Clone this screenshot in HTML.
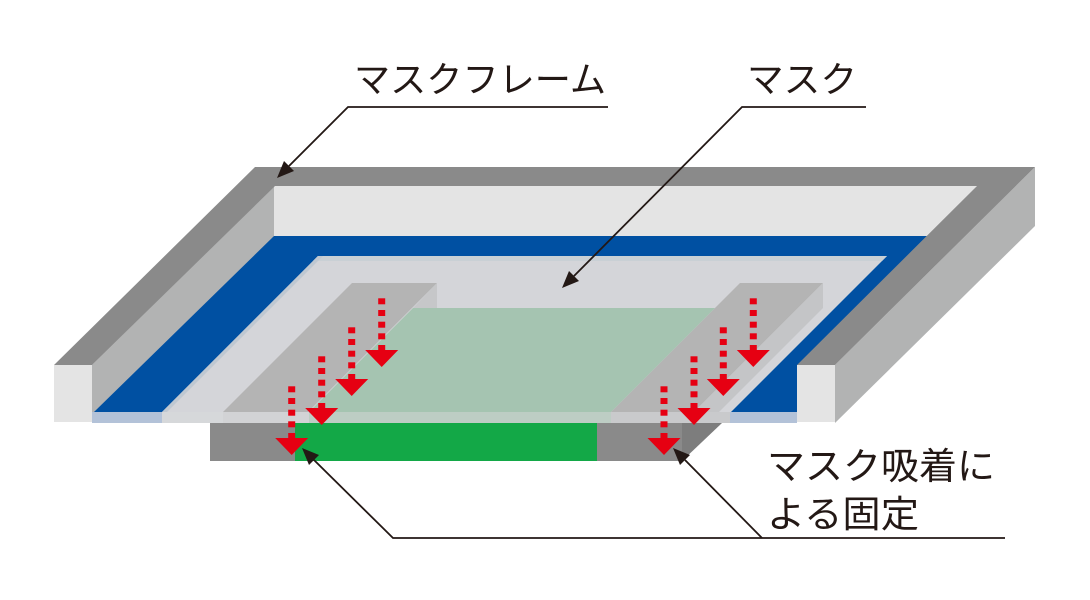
<!DOCTYPE html>
<html>
<head>
<meta charset="utf-8">
<style>
  html,body{margin:0;padding:0;background:#fff;}
  body{width:1090px;height:600px;overflow:hidden;}
  svg{display:block;}
  text{font-family:"Liberation Sans","Noto Sans CJK JP",sans-serif;fill:#231815;}
</style>
</head>
<body>
<svg width="1090" height="600" viewBox="0 0 1090 600" xmlns="http://www.w3.org/2000/svg">
  <rect width="1090" height="600" fill="#fff"/>

  <!-- right wall outer face -->
  <polygon points="1035,167 1035,226 835,423 835,365" fill="#b2b3b3"/>
  <!-- back wall inner face -->
  <polygon points="274,186 977,186 928,236 274,236" fill="#e4e4e4"/>
  <!-- blue floor -->
  <polygon points="271,236 927,236 797,366 797,412 92,412 92,365" fill="#0050a2"/>
  <!-- left wall inner face -->
  <polygon points="274,186 274,236 94,412 92,412 92,365" fill="#b2b3b3"/>
  <!-- top dark band of frame -->
  <polygon points="255,167 1035,167 835,365 797,365 977,186 275,186 92,365 54,365" fill="#8a8a8a"/>
  <!-- front cut faces -->
  <rect x="54" y="365" width="38" height="57" fill="#e4e4e4"/>
  <rect x="797" y="365" width="38" height="57" fill="#e4e4e4"/>

  <!-- front strip (base / mask thickness) -->
  <rect x="92" y="412" width="705" height="11" fill="#b3c2d8"/>
  <rect x="162" y="412" width="568" height="11" fill="#d6d8da"/>
  <rect x="223" y="412" width="86" height="11" fill="#d2d3d5"/>
  <rect x="309" y="412" width="302" height="11" fill="#bdcdc4"/>
  <rect x="611" y="412" width="119" height="11" fill="#c9cacc"/>

  <!-- mask top surface -->
  <polygon points="318,256 887,256 731,412 162,412" fill="#d4d5d9"/>
  <polygon points="318,256 887,256 882,261 313,261" fill="#c9d0d5"/>
  <polygon points="318,256 323,256 167,412 162,412" fill="#bfc8d1"/>

  <!-- left block -->
  <polygon points="352,283 437,283 308,412 223,412" fill="#b4b4b4"/>
  <polygon points="437,283 437,308 413,308" fill="#c6c7c9"/>
  <!-- right block -->
  <polygon points="740,283 823,283 694,412 611,412" fill="#b4b4b4"/>
  <polygon points="823,283 823,308 719,412 694,412" fill="#c4c5c7"/>

  <!-- translucent green area -->
  <polygon points="413,308 715,308 611,412 309,412" fill="#a5c4b1"/>

  <!-- table -->
  <rect x="210" y="423" width="472" height="38" fill="#8a8a8a"/>
  <polygon points="682,423 722,423 682,461" fill="#7d7d7d"/>
  <rect x="295" y="423" width="302" height="38" fill="#13a847"/>

  <!-- red dashed arrows -->
  <g fill="#e60012">
    <!-- left group -->
    <g transform="translate(291.7,438)">
      <rect x="-3.5" y="-51.7" width="7" height="6"/><rect x="-3.5" y="-40" width="7" height="6"/><rect x="-3.5" y="-28.3" width="7" height="6"/><rect x="-3.5" y="-16.7" width="7" height="6"/><rect x="-3.5" y="-5" width="7" height="6"/>
      <polygon points="-16.5,0 16.5,0 0,17"/>
    </g>
    <g transform="translate(321.7,408)">
      <rect x="-3.5" y="-51.7" width="7" height="6"/><rect x="-3.5" y="-40" width="7" height="6"/><rect x="-3.5" y="-28.3" width="7" height="6"/><rect x="-3.5" y="-16.7" width="7" height="6"/><rect x="-3.5" y="-5" width="7" height="6"/>
      <polygon points="-16.5,0 16.5,0 0,17"/>
    </g>
    <g transform="translate(351.7,379)">
      <rect x="-3.5" y="-51.7" width="7" height="6"/><rect x="-3.5" y="-40" width="7" height="6"/><rect x="-3.5" y="-28.3" width="7" height="6"/><rect x="-3.5" y="-16.7" width="7" height="6"/><rect x="-3.5" y="-5" width="7" height="6"/>
      <polygon points="-16.5,0 16.5,0 0,17"/>
    </g>
    <g transform="translate(381.7,350)">
      <rect x="-3.5" y="-51.7" width="7" height="6"/><rect x="-3.5" y="-40" width="7" height="6"/><rect x="-3.5" y="-28.3" width="7" height="6"/><rect x="-3.5" y="-16.7" width="7" height="6"/><rect x="-3.5" y="-5" width="7" height="6"/>
      <polygon points="-16.5,0 16.5,0 0,17"/>
    </g>
    <!-- right group -->
    <g transform="translate(664,438)">
      <rect x="-3.5" y="-51.7" width="7" height="6"/><rect x="-3.5" y="-40" width="7" height="6"/><rect x="-3.5" y="-28.3" width="7" height="6"/><rect x="-3.5" y="-16.7" width="7" height="6"/><rect x="-3.5" y="-5" width="7" height="6"/>
      <polygon points="-16.5,0 16.5,0 0,17"/>
    </g>
    <g transform="translate(694,408)">
      <rect x="-3.5" y="-51.7" width="7" height="6"/><rect x="-3.5" y="-40" width="7" height="6"/><rect x="-3.5" y="-28.3" width="7" height="6"/><rect x="-3.5" y="-16.7" width="7" height="6"/><rect x="-3.5" y="-5" width="7" height="6"/>
      <polygon points="-16.5,0 16.5,0 0,17"/>
    </g>
    <g transform="translate(723.3,379)">
      <rect x="-3.5" y="-51.7" width="7" height="6"/><rect x="-3.5" y="-40" width="7" height="6"/><rect x="-3.5" y="-28.3" width="7" height="6"/><rect x="-3.5" y="-16.7" width="7" height="6"/><rect x="-3.5" y="-5" width="7" height="6"/>
      <polygon points="-16.5,0 16.5,0 0,17"/>
    </g>
    <g transform="translate(753.3,350)">
      <rect x="-3.5" y="-51.7" width="7" height="6"/><rect x="-3.5" y="-40" width="7" height="6"/><rect x="-3.5" y="-28.3" width="7" height="6"/><rect x="-3.5" y="-16.7" width="7" height="6"/><rect x="-3.5" y="-5" width="7" height="6"/>
      <polygon points="-16.5,0 16.5,0 0,17"/>
    </g>
  </g>

  <!-- leader lines -->
  <g stroke="#231815" stroke-width="1.8" fill="none" stroke-linejoin="miter">
    <polyline points="608,107 348,107 289,166"/>
    <polyline points="866,107 742,107 574,276"/>
    <polyline points="1005,538 393,538 314,460"/>
    <polyline points="762,538 685,460"/>
  </g>
  <g fill="#231815">
    <polygon points="277,178 294,171 284,161"/>
    <polygon points="562,288 579,281 569,271"/>
    <polygon points="302,448 319,455 309,465"/>
    <polygon points="673,448 690,455 680,465"/>
  </g>

  <!-- labels -->
  <text x="354" y="92" font-size="36" textLength="252" lengthAdjust="spacingAndGlyphs">マスクフレーム</text>
  <text x="747" y="92" font-size="36" textLength="110" lengthAdjust="spacingAndGlyphs">マスク</text>
  <text x="767" y="479" font-size="37" textLength="228" lengthAdjust="spacingAndGlyphs">マスク吸着に</text>
  <text x="767" y="527" font-size="37" textLength="152" lengthAdjust="spacingAndGlyphs">よる固定</text>
</svg>
</body>
</html>
